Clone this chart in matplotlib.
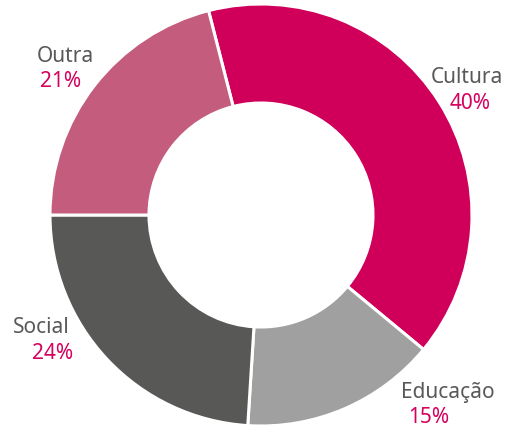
import matplotlib
matplotlib.use('Agg')
import matplotlib.pyplot as plt

labels = ['Cultura', 'Educação', 'Social', 'Outra']
values = [40, 15, 24, 21]
colors = ['#D0005A', '#A0A0A0', '#585856', '#C35C7D']

# label placement in pixel offsets from the donut centre (x right, y up):
# (name x, name baseline, percent x, percent baseline)
label_pos = {
    'Cultura': (170, 133, 189, 107),
    'Educação': (140, -182, 147, -207),
    'Social': (-248, -117, -229, -143),
    'Outra': (-224, 154, -221, 129),
}

plt.rcParams['font.family'] = ['Noto Sans', 'DejaVu Sans']

fig = plt.figure(figsize=(5.11, 4.27), dpi=100)
ax = fig.add_axes([0, 0, 1, 1])
ax.pie(values, colors=colors, startangle=104.4, counterclock=False,
       radius=211, wedgeprops=dict(width=99, edgecolor='white', linewidth=2.2))
ax.set_xlim(-261, 250)
ax.set_ylim(-211, 216)
ax.set_aspect('equal')
ax.axis('off')

for name, v in zip(labels, values):
    nx, ny, px, py = label_pos[name]
    ax.text(nx, ny, name, fontsize=15, color='#595959', ha='left', va='baseline')
    ax.text(px, py, f'{v}%', fontsize=15, color='#D6005E', ha='left', va='baseline')

fig.savefig('out.png', dpi=100)
